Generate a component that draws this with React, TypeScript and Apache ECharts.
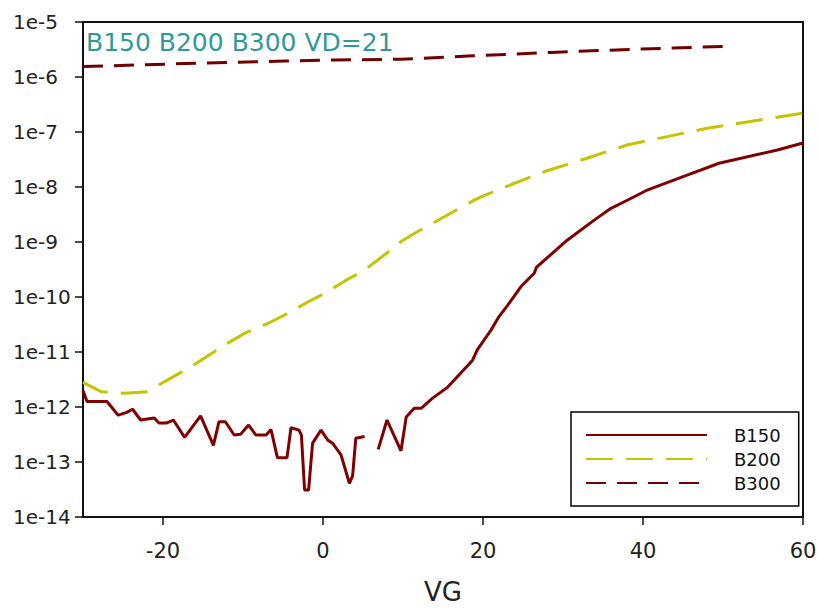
import React, { useEffect, useRef } from "react";
import * as echarts from "echarts";

// Gate voltage sweep (V) and drain current (A) for each device
const b150VG = [
  -30, -29.5, -27, -25.6, -24.6, -23.8, -22.8, -21.1, -20.5, -19.6, -18.7, -17.3,
  -15.3, -13.7, -13.0, -12.2, -11.1, -10.3, -9.3, -8.4, -7.1, -6.5, -5.7, -4.5,
  -4.0, -3.0, -2.7, -2.3, -1.8, -1.3, -0.25, 0.6, 1.2, 2.25, 3.3, 3.7, 4.1, 5.2,
  6.0, 6.9, 8.0, 9.75, 10.4, 11.4, 12.3, 13.7, 15.6, 18.7, 19.3, 21.0, 22.0,
  23.1, 24.75, 26.4, 26.7, 30.6, 33.9, 36.0, 38.1, 40.6, 45.6, 49.5, 56.8, 60,
];
const b150ID: (number | null)[] = [
  2.0e-12, 1.26e-12, 1.26e-12, 7.1e-13, 7.9e-13, 9.1e-13, 5.8e-13, 6.3e-13, 5.1e-13,
  5.1e-13, 5.8e-13, 2.8e-13, 6.9e-13, 2.0e-13, 5.4e-13, 5.4e-13, 3.1e-13, 3.2e-13,
  4.7e-13, 3.1e-13, 3.1e-13, 3.9e-13, 1.2e-13, 1.2e-13, 4.2e-13, 3.8e-13, 3.1e-13,
  3.1e-14, 3.1e-14, 2.2e-13, 3.8e-13, 2.5e-13, 2.2e-13, 1.35e-13, 4.1e-14, 5.6e-14,
  2.7e-13, 2.9e-13, null, 1.7e-13, 5.8e-13, 1.6e-13, 6.6e-13, 9.5e-13, 9.5e-13,
  1.45e-12, 2.3e-12, 7.1e-12, 1.1e-11, 2.5e-11, 4.4e-11, 7.1e-11, 1.55e-10, 2.7e-10,
  3.5e-10, 1.1e-9, 2.5e-9, 4.1e-9, 5.8e-9, 8.9e-9, 1.66e-8, 2.7e-8, 4.7e-8, 6.3e-8,
];

const b200VG = [
  -30, -27.75, -24.8, -21.9, -19.8, -16.9, -14.8, -11.9, -9.8, -6.9, -4.8, -1.9, 0,
  3.1, 5.2, 8.1, 9.75, 12.0, 13.1, 18.1, 19.75, 22.9, 28.1, 32.9, 38.0, 48.0, 60,
];
const b200ID = [
  2.8e-12, 1.9e-12, 1.78e-12, 1.9e-12, 2.9e-12, 5.0e-12, 7.8e-12, 1.45e-11, 2.2e-11,
  3.3e-11, 4.7e-11, 8.1e-11, 1.12e-10, 2.1e-10, 3.1e-10, 6.5e-10, 1.02e-9, 1.6e-9,
  1.95e-9, 5.0e-9, 6.6e-9, 1.02e-8, 2.0e-8, 3.3e-8, 5.8e-8, 1.17e-7, 2.2e-7,
];

const b300VG = [-30, -15.7, -4.8, 1.4, 9.75, 18.1, 28.5, 38.9, 50];
const b300ID = [1.55e-6, 1.78e-6, 1.95e-6, 2.04e-6, 2.1e-6, 2.4e-6, 2.8e-6, 3.2e-6, 3.6e-6];

const xTicks = [-20, 0, 20, 40, 60];
const seriesNames = ["B150", "B200", "B300"];
const titleText = "B150 B200 B300 VD=21";

const FONT = "DejaVu Sans";

const pairs = (xs: number[], ys: (number | null)[]) =>
  xs.map((x, i) => [x, ys[i] == null ? "-" : ys[i]]);

export default function App() {
  const ref = useRef<HTMLDivElement>(null);

  useEffect(() => {
    if (!ref.current) return;
    const chart = echarts.init(ref.current, null, { renderer: "svg" });
    chart.setOption({
      animation: false,
      backgroundColor: "#ffffff",
      title: {
        text: titleText,
        left: 86,
        top: 30,
        padding: 0,
        textStyle: { fontFamily: FONT, fontSize: 25, fontWeight: "normal", color: "#2e9a9a" },
      },
      legend: {
        orient: "vertical",
        left: 571,
        top: 412,
        padding: [14, 18, 14, 14],
        itemWidth: 121,
        itemHeight: 14,
        itemGap: 6,
        borderColor: "#000",
        borderWidth: 1.5,
        data: seriesNames,
        itemStyle: { opacity: 0 },
        textStyle: {
          fontFamily: FONT,
          fontSize: 18,
          color: "#111",
          padding: [0, 0, 0, 22],
        },
      },
      grid: {
        left: 83,
        top: 22,
        right: 15,
        bottom: 93,
        containLabel: false,
        outerBoundsMode: "none",
        show: true,
        borderColor: "#111",
        borderWidth: 2,
        backgroundColor: "transparent",
      },
      xAxis: {
        type: "value",
        min: -30,
        max: 60,
        name: "VG",
        nameLocation: "middle",
        nameGap: 62,
        nameTextStyle: { fontFamily: FONT, fontSize: 26, color: "#222" },
        axisLine: { show: true, onZero: false, lineStyle: { color: "#111", width: 2 } },
        axisTick: { show: true, length: 8, customValues: xTicks, lineStyle: { color: "#111", width: 1.5 } },
        axisLabel: {
          customValues: xTicks,
          margin: 23,
          fontFamily: FONT,
          fontSize: 21,
          color: "#222",
        },
        splitLine: { show: false },
      },
      yAxis: {
        type: "log",
        logBase: 10,
        min: 1e-14,
        max: 1e-5,
        interval: 1,
        axisLine: { show: true, onZero: false, lineStyle: { color: "#111", width: 2 } },
        axisTick: { show: true, length: 8, lineStyle: { color: "#111", width: 1.5 } },
        axisLabel: {
          align: "left",
          margin: 70,
          fontFamily: FONT,
          fontSize: 20,
          color: "#222",
          formatter: (v: number) => "1e" + Math.round(Math.log10(v)),
        },
        splitLine: { show: false },
        minorTick: { show: false },
      },
      series: [
        {
          name: seriesNames[0],
          type: "line",
          data: pairs(b150VG, b150ID),
          symbol: "none",
          connectNulls: false,
          color: "#800000",
          lineStyle: { color: "#800000", width: 3 },
        },
        {
          name: seriesNames[1],
          type: "line",
          data: pairs(b200VG, b200ID),
          symbol: "none",
          color: "#c4c400",
          lineStyle: { color: "#c4c400", width: 3, type: [27, 13] },
        },
        {
          name: seriesNames[2],
          type: "line",
          data: pairs(b300VG, b300ID),
          symbol: "none",
          color: "#700000",
          lineStyle: { color: "#700000", width: 3, type: [20, 11] },
        },
      ],
    });
    return () => chart.dispose();
  }, []);

  return (
    <div
      ref={ref}
      style={{ position: "fixed", left: 0, top: 0, width: 818, height: 610 }}
    />
  );
}
